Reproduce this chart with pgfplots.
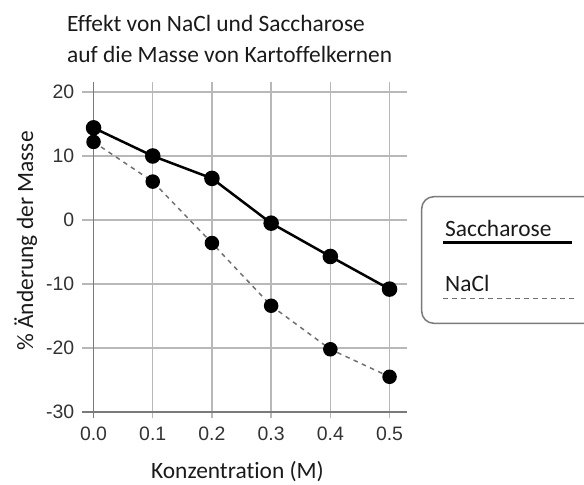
\documentclass[border=0pt]{standalone}
\usepackage{pgfplots}
\pgfplotsset{compat=1.18}
\usepackage{fontspec}
\setmainfont{Carlito}[Ligatures=NoCommon]
\newfontfamily\arialfont{Liberation Sans}
\definecolor{gridc}{HTML}{B8B8B8}
\definecolor{axc}{HTML}{7A7A7A}
\definecolor{tickc}{HTML}{333333}
\definecolor{dashc}{HTML}{707070}
\definecolor{textc}{HTML}{1A1A1A}
\begin{document}
\begin{tikzpicture}[x=1bp,y=1bp]
\path[use as bounding box] (0,0) rectangle (584,485);
\begin{axis}[
  at={(81.7bp,66.6bp)}, anchor=south west,
  scale only axis, width=325.6bp, height=336bp,
  xmin=-0.02, xmax=0.53, ymin=-31, ymax=21.5,
  xtick={0,0.1,0.2,0.3,0.4,0.5},
  xticklabels={0.0,0.1,0.2,0.3,0.4,0.5},
  ytick={-30,-20,-10,0,10,20},
  yticklabels={-30,-20,-10,0,10,20},
  grid=major, grid style={gridc, line width=1.5bp},
  axis line style={draw=none},
  major tick length=0pt,
  tick label style={font=\fontsize{19.5}{23}\arialfont, text=tickc},
  yticklabel style={xshift=-4bp},
  xticklabel style={yshift=-5bp},
  extra x ticks={0}, extra x tick labels={},
  extra x tick style={grid style={axc, line width=1.5bp}},
  extra y ticks={-30}, extra y tick labels={},
  extra y tick style={grid style={axc, line width=1.5bp}},
  clip=false,
]
\addplot[dashc, line width=1.5bp, dash pattern=on 4.5bp off 4.5bp,
  mark=*, mark size=6.5bp, mark options={solid, fill=black, draw=black}]
  coordinates {(0,12.2)(0.1,6.0)(0.2,-3.6)(0.3,-13.4)(0.4,-20.2)(0.5,-24.5)};
\addplot[black, line width=2.5bp, mark=*, mark size=6.5bp,
  mark options={solid, fill=black}]
  coordinates {(0,14.4)(0.1,10.0)(0.2,6.5)(0.3,-0.5)(0.4,-5.7)(0.5,-10.8)};
\end{axis}
% title
\node[anchor=base west, font=\fontsize{23.5}{29}\selectfont, text=textc, inner sep=0] at (67,453) {Effekt von NaCl und Saccharose};
\node[anchor=base west, font=\fontsize{23.5}{29}\selectfont, text=textc, inner sep=0] at (67,422) {auf die Masse von Kartoffelkernen};
% axis labels
\node[anchor=base, font=\fontsize{23.5}{29}\selectfont, text=textc, inner sep=0] at (237.5,6.5) {Konzentration (M)};
\node[anchor=base, rotate=90, font=\fontsize{23.5}{29}\selectfont, text=textc, inner sep=0] at (33,244) {\% Änderung der Masse};
% legend
\draw[axc, line width=1.5bp, rounded corners=12bp] (421.7,288.3) rectangle (640,161.7);
\node[anchor=base west, font=\fontsize{23.5}{29}\selectfont, text=textc, inner sep=0] at (445,248.3) {Saccharose};
\draw[black, line width=2.5bp] (443.3,242.7) -- (571.7,242.7);
\node[anchor=base west, font=\fontsize{23.5}{29}\selectfont, text=textc, inner sep=0] at (445,193.3) {NaCl};
\draw[dashc, line width=1.5bp, dash pattern=on 4.5bp off 4.5bp] (443.3,186.7) -- (575,186.7);
\end{tikzpicture}
\end{document}
